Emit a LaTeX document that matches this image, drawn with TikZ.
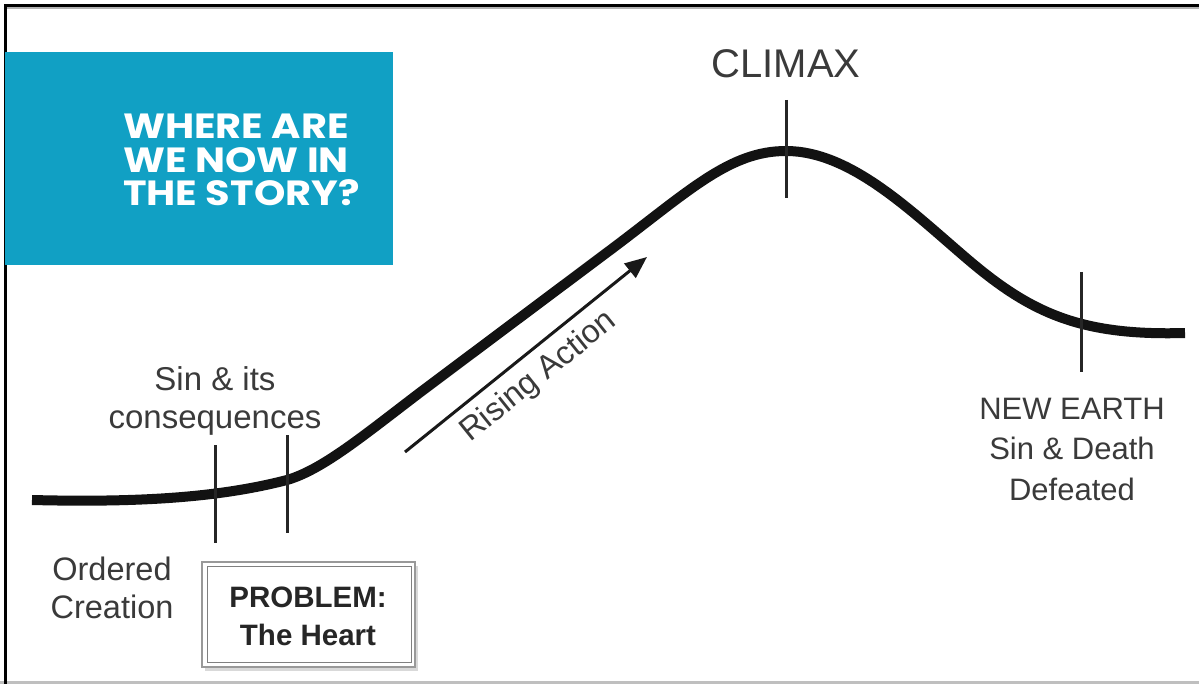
\documentclass[tikz,border=0pt]{standalone}
\usepackage{fontspec}
\setmainfont{Liberation Sans}
\newfontfamily\popfont{Poppins}[UprightFont=* Bold, FakeStretch=1.14]
\usetikzlibrary{arrows.meta}
\definecolor{boxblue}{HTML}{11A0C4}
\definecolor{txtgray}{HTML}{3A3A3A}
\tikzset{
  curveline/.style={line width=10pt, black!93},
  tickline/.style={line width=3pt, black!85},
  lbl/.style={text=txtgray, align=center, inner sep=0pt},
}
\begin{document}
\begin{tikzpicture}[x=1pt,y=-1pt]
\useasboundingbox (0,0) rectangle (1199,684);
% frame
\fill[black!25] (0,681) rectangle (1199,684);
\fill[black!30] (5,7) rectangle (1199,9);
\fill[black] (5,4) rectangle (1199,7);
\fill[black] (4,4) rectangle (7,684);
% blue box
\fill[boxblue] (5,52) rectangle (393,265);
\node[anchor=base west, text=white, align=left, inner sep=0pt,
  font=\popfont\fontsize{35}{33.5}\selectfont] (title) at (123,206)
  {WHERE ARE\\WE NOW IN\\THE STORY?};
% main curve
\coordinate (c0) at (32,500);
\coordinate (c1) at (287,480);
\coordinate (c2) at (430,385);
\coordinate (c3) at (613,248);
\coordinate (c4) at (786,151);
\coordinate (c5) at (965,257);
\coordinate (c7) at (1185,333);
\draw[curveline] (c0) .. controls (150,503) and (225,496) .. (c1)
  .. controls (325,469) and (370,430) .. (c2)
  -- (c3)
  .. controls (690,190) and (730,151) .. (c4)
  .. controls (850,151) and (910,210) .. (c5)
  .. controls (1030,313) and (1080,336) .. (c7);
% ticks
\coordinate (t1a) at (215,445); \coordinate (t1b) at (215,543);
\coordinate (t2a) at (287,435); \coordinate (t2b) at (287,533);
\coordinate (t3a) at (786,100); \coordinate (t3b) at (786,198);
\coordinate (t4a) at (1081,272); \coordinate (t4b) at (1081,372);
\draw[tickline] (t1a) -- (t1b);
\draw[tickline] (t2a) -- (t2b);
\draw[tickline] (t3a) -- (t3b);
\draw[tickline] (t4a) -- (t4b);
% rising action arrow
\coordinate (ra) at (405,452);
\coordinate (rb) at (647,257);
\draw[line width=3pt, black!90, -{Triangle[length=22pt,width=18pt]}] (ra) -- (rb);
\node[lbl, rotate=38.8, font=\fontsize{32.4}{40}\selectfont] (rising) at (539,377) {Rising Action};
% labels
\node[lbl, font=\fontsize{40}{40}\selectfont, anchor=base] (climax) at (786,78) {CLIMAX};
\node[lbl, font=\fontsize{33}{38}\selectfont, anchor=base] (sin) at (215,428) {Sin \& its\\consequences};
\node[lbl, font=\fontsize{32.5}{38}\selectfont, anchor=base] (ordered) at (112,618) {Ordered\\Creation};
\node[lbl, font=\fontsize{31}{40.5}\selectfont, anchor=base] (newearth) at (1072,500) {NEW EARTH\\Sin \& Death\\Defeated};
% problem box
\fill[black!15] (205,566) rectangle (418,671);
\draw[black!40, line width=1.5pt, fill=white] (202,562) rectangle (415,667);
\draw[black!50, line width=1pt] (207,566) rectangle (411,662);
\node[lbl, text=black!85, font=\bfseries\fontsize{29.5}{38}\selectfont, anchor=base] (problem) at (308,645) {PROBLEM:\\The Heart};
\end{tikzpicture}
\end{document}
